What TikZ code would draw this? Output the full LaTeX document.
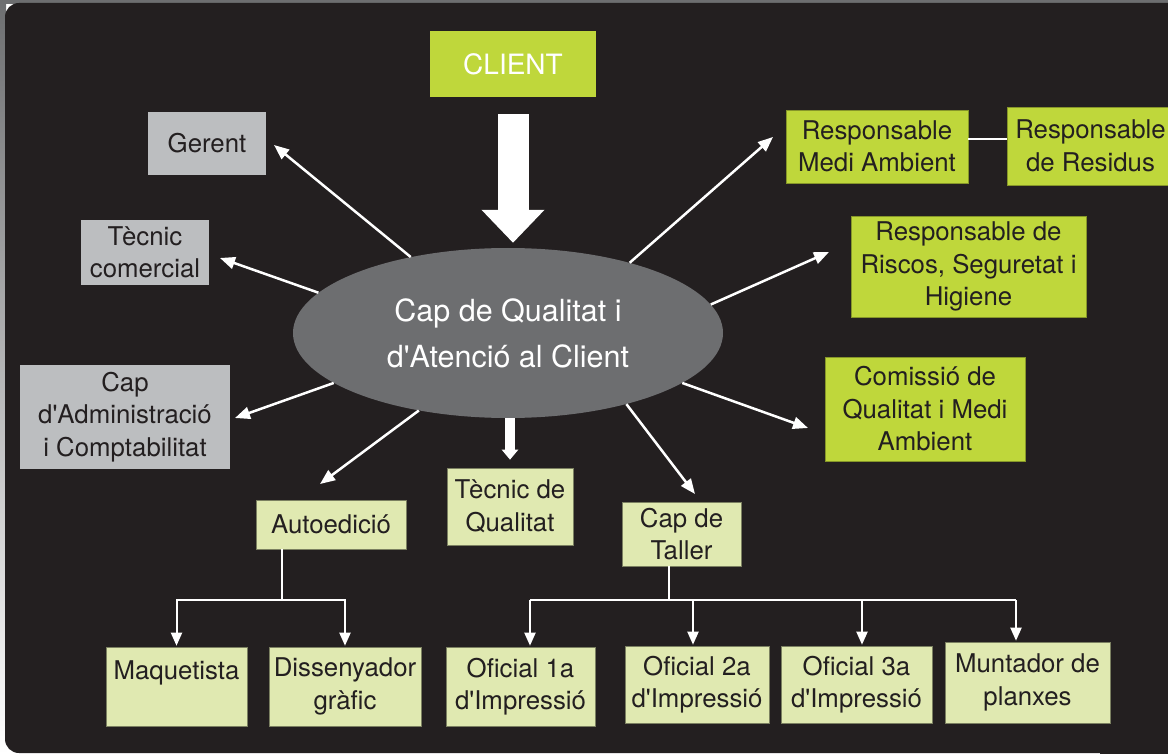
\documentclass[tikz,border=0pt]{standalone}
\usepackage{fontspec}
\setmainfont{TeX Gyre Heros}
\usetikzlibrary{arrows.meta,shapes.geometric,calc}
\definecolor{bg}{HTML}{231F20}
\definecolor{ellc}{HTML}{6D6E70}
\definecolor{graybox}{HTML}{BCBEC0}
\definecolor{lime}{HTML}{BFD73B}
\definecolor{pale}{HTML}{E0E9B1}
\definecolor{txt}{HTML}{231F20}
\newcommand{\ap}{\textquotesingle}
\begin{document}
\begin{tikzpicture}[x=1pt,y=-1pt,
  box/.style={rectangle, inner sep=0pt, align=center, text=txt, font=\fontsize{25.8}{32.5}\selectfont},
  graybx/.style={box, fill=graybox},
  limebx/.style={box, fill=lime, draw=lime!70!black, line width=0.6pt},
  palebx/.style={box, fill=pale, draw=pale!55!black, line width=0.6pt},
  rad/.style={draw=white, line width=2.5pt, -{Triangle[length=15pt,width=12pt]}},
  tree/.style={draw=white, line width=2pt},
  treearr/.style={tree, -{Triangle[length=13pt,width=11pt]}, shorten >=1pt},
]
\useasboundingbox (0,0) rectangle (1168,754);
\fill[white] (0,0) rectangle (1168,754);
\shade[top color=ellc, bottom color=white] (0,0) rectangle (6,754);
\fill[ellc] (0,0) rectangle (1168,4);
\begin{scope}
\clip (0,0) rectangle (1168,754);
\fill[bg, rounded corners=14pt] (5,3) rectangle (1200,753);
\fill[bg] (1100,3) rectangle (1168,754);
\end{scope}

% central ellipse
\node[ellipse, fill=ellc, minimum width=430pt, minimum height=170pt, inner sep=0pt,
      text=white, align=center, font=\fontsize{30.5}{46}\selectfont] (ell) at (508,333)
      {Cap de Qualitat i\\d\ap Atenció al Client};

% client
\node[box, fill=lime, text=white, font=\fontsize{28}{34}\selectfont,
      minimum width=166pt, minimum height=66pt] (client) at (513,64) {CLIENT};

% gray boxes
\node[graybx, minimum width=118pt, minimum height=63pt] (gerent) at (207,143.5) {Gerent};
\node[graybx, minimum width=128pt, minimum height=65pt] (tcom) at (145,252.5) {Tècnic\\comercial};
\node[graybx, minimum width=210pt, minimum height=104pt] (admin) at (125,417) {Cap\\d\ap Administració\\i Comptabilitat};

% lime boxes
\node[limebx, minimum width=182pt, minimum height=73pt] (rma) at (877,146.5) {Responsable\\Medi Ambient};
\node[limebx, minimum width=167pt, minimum height=78pt] (rres) at (1090.5,146) {Responsable\\de Residus};
\node[limebx, minimum width=235pt, minimum height=101pt] (risc) at (968.5,266.5) {Responsable de\\Riscos, Seguretat i\\Higiene};
\node[limebx, minimum width=200pt, minimum height=104pt] (com) at (925,409) {Comissió de\\Qualitat i Medi\\Ambient};

% pale boxes
\node[palebx, minimum width=150pt, minimum height=49pt] (auto) at (331,524.5) {Autoedició};
\node[palebx, minimum width=126pt, minimum height=77pt] (tq) at (510,506.5) {Tècnic de\\Qualitat};
\node[palebx, minimum width=119pt, minimum height=64pt] (taller) at (681.5,534) {Cap de\\Taller};
\node[palebx, minimum width=141pt, minimum height=79pt] (maq) at (176.5,686.5) {Maquetista\\\mbox{}};
\node[palebx, minimum width=152pt, minimum height=79pt] (dis) at (345,686.5) {Dissenyador\\gràfic};
\node[palebx, minimum width=149pt, minimum height=79pt] (of1) at (520.5,686.5) {Oficial 1a\\d\ap Impressió};
\node[palebx, minimum width=144pt, minimum height=77pt] (of2) at (697,684.5) {Oficial 2a\\d\ap Impressió};
\node[palebx, minimum width=151pt, minimum height=77pt] (of3) at (856.5,684.5) {Oficial 3a\\d\ap Impressió};
\node[palebx, minimum width=165pt, minimum height=81pt] (munt) at (1027.5,682.5) {Muntador de\\planxes};

% big arrow from client
\draw[white, line width=31pt, -{Triangle[length=33pt,width=61pt]}, shorten <=17pt, shorten >=5pt]
  (client.south) -- (client.south |- ell.north);

% radial arrows
\coordinate (tipG) at (274,145);
\coordinate (tipT) at (220,258);
\coordinate (tipA) at (235,418);
\coordinate (tipAu) at (320,484);
\coordinate (tipCT) at (695,494);
\coordinate (tipCo) at (808,428);
\coordinate (tipR) at (829,252);
\coordinate (tipM) at (773,137);
\draw[rad] (ell.142.4) -- (tipG);
\draw[rad] (ell.168.2) -- (tipT);
\draw[rad] (ell.196.6) -- (tipA);
\draw[rad] (ell.221.2) -- (tipAu);
\draw[rad] (ell.329) -- (tipCT);
\draw[rad] (ell.344.5) -- (tipCo);
\draw[rad] (ell.8.6) -- (tipR);
\draw[rad] (ell.30.6) -- (tipM);

% short thick arrow to Tecnic de Qualitat
\draw[white, line width=10pt, -{Triangle[length=10pt,width=16pt]}, shorten >=8pt]
  (ell.south -| tq) -- (tq.north);

% link between responsables
\draw[white, line width=2.5pt] ([yshift=7.5pt]rma.east) -- ([yshift=7.5pt]rma.east -| rres.west);

% Autoedicio tree
\coordinate (aj) at (282,600);
\draw[tree] (auto.south -| aj) -- (aj);
\draw[treearr] (aj) -| (maq.north);
\draw[treearr] (aj) -| (dis.north);

% Taller tree
\coordinate (tj) at (669,600);
\coordinate (b1) at (530,600);
\coordinate (b2) at (693,600);
\coordinate (b3) at (862,600);
\coordinate (b4) at (1016,600);
\draw[tree] (taller.south -| tj) -- (tj);
\draw[tree] (b1) -- (b4);
\draw[treearr] (b1) -- (b1 |- of1.north);
\draw[treearr] (b2) -- (b2 |- of2.north);
\draw[treearr] (b3) -- (b3 |- of3.north);
\draw[treearr] (b4) -- (b4 |- munt.north);
\end{tikzpicture}
\end{document}
